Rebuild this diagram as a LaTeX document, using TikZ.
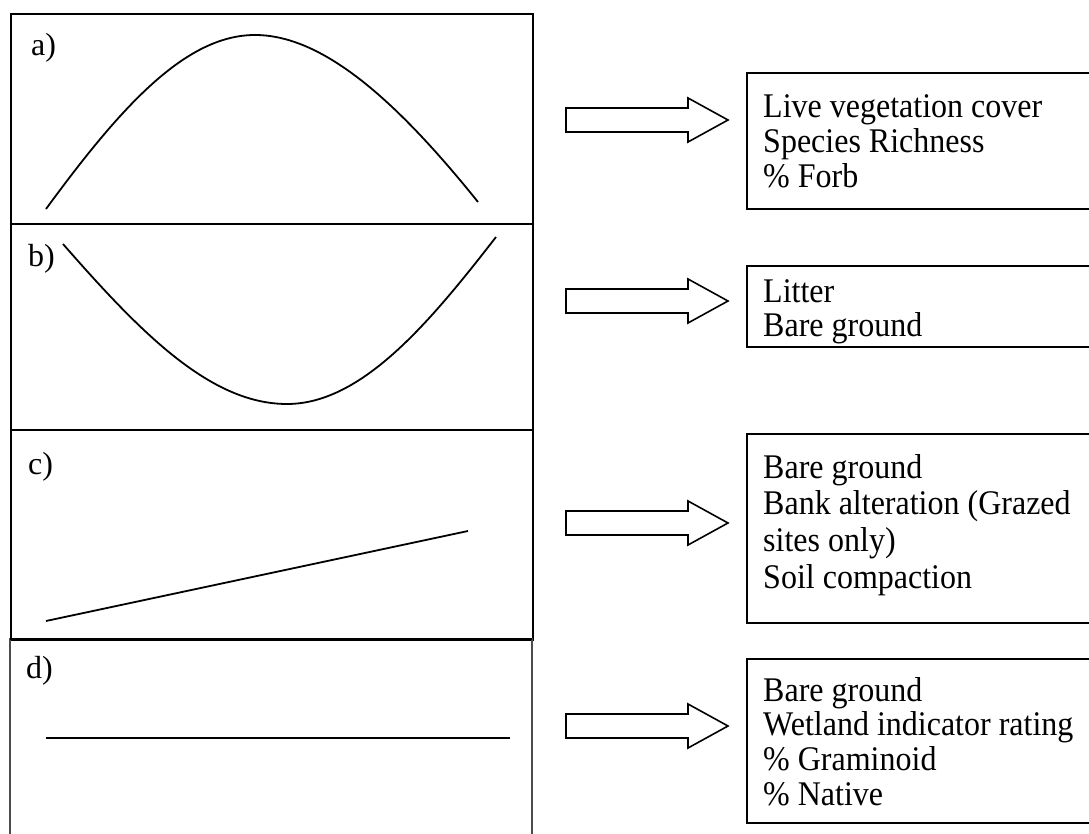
\documentclass[tikz,border=0pt]{standalone}
\usepackage{fontspec}
\setmainfont{Liberation Serif}
\newcommand{\listtext}[2]{\scalebox{1}[1.08]{\fontsize{32}{#1}\selectfont\begin{tabular}{@{}l@{}}#2\end{tabular}}}
\begin{document}
\begin{tikzpicture}[x=1pt,y=-1pt,line join=miter,
  panel/.style={draw=black,line width=1.9pt,inner sep=0pt,anchor=north west,minimum width=522pt},
  curve/.style={line width=1.8pt},
  barrow/.style={draw=black,line width=1.6pt,fill=white},
  listbox/.style={draw=black,line width=1.7pt,inner sep=0pt,anchor=north west,minimum width=360pt},
  txt/.style={anchor=north west,inner sep=0pt},
  lab/.style={anchor=base west,inner sep=0pt,font=\fontsize{32}{36}\selectfont},
  pics/blockarrow/.style={code={
    \draw[barrow] (566,-12) -- (688,-12) -- (688,-22) -- (728,0) -- (688,22) -- (688,12) -- (566,12) -- cycle;}}]
\useasboundingbox (0,0) rectangle (1089,834);

% left panels
\node[panel,minimum height=210pt] (pa) at (10,13) {};
\node[panel,minimum height=206pt] (pb) at (10,223) {};
\node[panel,minimum height=210pt] (pc) at (10,429) {};
\draw[draw=black!70,line width=1.2pt] (10,860) -- (10,639) -- (532,639) -- (532,860);
\draw[line width=1.9pt] (10,639) -- (532,639);

\node[lab] (la) at (31,56) {a)};
\node[lab] (lb) at (28,267) {b)};
\node[lab] (lc) at (28,474) {c)};
\node[lab] (ld) at (26,678) {d)};

% curves
\draw[curve] (46,209) .. controls (120,108) and (185,35) .. (255,35)
                      .. controls (325,35) and (400,105) .. (478,202);
\draw[curve] (63,244) .. controls (140,332) and (210,404) .. (287,404)
                      .. controls (362,404) and (430,322) .. (496,237);
\draw[curve] (46,621) -- (468,531);
\draw[curve] (46,738) -- (510,738);

% block arrows
\pic at (0,120) {blockarrow};
\pic at (0,301) {blockarrow};
\pic at (0,523) {blockarrow};
\pic at (0,726) {blockarrow};

% right boxes
\node[listbox,minimum height=136pt] (ba) at (746,72) {};
\node[listbox,minimum height=81pt] (bb) at (746,265) {};
\node[listbox,minimum height=189pt] (bc) at (746,433) {};
\node[listbox,minimum height=164pt] (bd) at (746,658) {};

\node[txt] (ta) at (763,92.5) {\listtext{32.41}{Live vegetation cover\\Species Richness\\\% Forb}};
\node[txt] (tb) at (763,278.2) {\listtext{31.48}{Litter\\Bare ground}};
\node[txt] (tc) at (763,452.3) {\listtext{33.98}{Bare ground\\Bank alteration (Grazed\\sites only)\\Soil compaction}};
\node[txt] (td) at (763,676.7) {\listtext{32.13}{Bare ground\\Wetland indicator rating\\\% Graminoid\\\% Native}};
\end{tikzpicture}
\end{document}
